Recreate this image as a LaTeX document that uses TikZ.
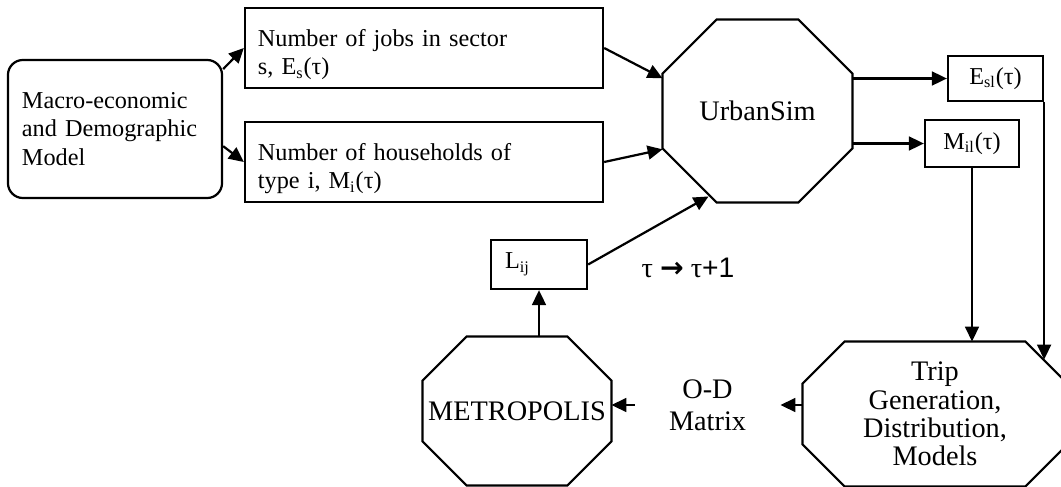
\documentclass[tikz,border=0pt]{standalone}
\usepackage{fontspec}
\setmainfont{Liberation Serif}
\newfontfamily\arrowfont{DejaVu Sans}
\newfontfamily\plainsans{Liberation Sans}
\usetikzlibrary{arrows.meta,calc}

\tikzset{
  box/.style={draw, line width=1.1pt, rectangle, inner sep=0pt, font=\fontsize{12}{14}\selectfont},
  octo/.style={rectangle, inner sep=0pt, align=center, font=\fontsize{14}{14}\selectfont},
  arr/.style={line width=1.1pt, -{Triangle[length=0.26cm,width=0.24cm]}},
}

\newcommand{\drawocto}[2]{%
  \draw[line width=1.1pt] ($(#1.north west)+(#2,0)$) -- ($(#1.north east)+(-#2,0)$)
    -- ($(#1.north east)+(0,#2)$) -- ($(#1.south east)+(0,-#2)$)
    -- ($(#1.south east)+(-#2,0)$) -- ($(#1.south west)+(#2,0)$)
    -- ($(#1.south west)+(0,-#2)$) -- ($(#1.north west)+(0,#2)$) -- cycle;}

\begin{document}
\begin{tikzpicture}[x=0.0174cm, y=-0.0174cm]
  \useasboundingbox (0,0) rectangle (1061,486);
  \clip (0,0) rectangle (1061,486);

  \node[box, rounded corners=0.26cm, minimum width=3.724cm, minimum height=2.401cm, text width=3.236cm, align=left] (MD) at (115,129) {Macro-economic\\and Demographic\\Model};
  \node[box, minimum width=6.229cm, minimum height=1.392cm, text width=5.777cm, align=left] (JB) at (424,48) {\rule{0pt}{15pt}Number of jobs in sector\\s, E\textsubscript{s}(τ)};
  \node[box, minimum width=6.229cm, minimum height=1.392cm, text width=5.777cm, align=left] (HH) at (424,162) {\rule{0pt}{15pt}Number of households of\\type i, M\textsubscript{i}(τ)};
  \node[octo, minimum width=3.289cm, minimum height=3.167cm] (US) at (757.5,111) {UrbanSim};
  \node[box, minimum width=1.653cm, minimum height=0.783cm] (ES) at (995.5,78.5) {E\textsubscript{sl}(τ)};
  \node[box, minimum width=1.636cm, minimum height=0.818cm] (MI) at (972,143.5) {M\textsubscript{il}(τ)};
  \node[box, minimum width=1.670cm, minimum height=0.853cm, text width=1.183cm, align=left] (LJ) at (539,264.5) {L\textsubscript{ij}};
  \node[font=\fontsize{14}{16}\selectfont, inner sep=0pt] (TAU) at (688,268) {τ {\arrowfont\bfseries →} τ{\plainsans +1}};
  \node[octo, minimum width=3.271cm, minimum height=2.575cm] (MET) at (517,411) {METROPOLIS};
  \node[octo, minimum width=4.594cm, minimum height=2.506cm] (TG) at (935,414) {Trip\\Generation,\\Distribution,\\Models};
  \node[font=\fontsize{14}{16}\selectfont, align=center, minimum width=2.523cm, inner sep=0pt] (OD) at (707.5,405) {O-D\\Matrix};

  \drawocto{US}{54}
  \drawocto{MET}{44}
  \drawocto{TG}{42}

  \coordinate (USin) at ($(US.south west)+(46,-6)$);
  \coordinate (TGin) at ($(TG.north east)+(-24,18)$);

  \draw[arr] (MD.29) -- (JB.west);
  \draw[arr] (MD.-9) -- (HH.west);
  \draw[arr] (JB.east) -- (US.161);
  \draw[arr] (HH.east) -- (US.202);
  \draw[arr] (LJ.east) -- (USin);
  \draw[arr] (US.east |- ES.west) -- (ES.west);
  \draw[arr] (US.east |- MI.west) -- (MI.west);
  \draw[arr] (MI.south) -- (MI.south |- TG.north);
  \draw[arr] (ES.south east) -- (ES.south east |- TGin);
  \draw[arr] (TG.west |- OD) -- (OD.east);
  \draw[arr] (OD.west) -- (MET.east |- OD);
  \draw[arr] (LJ.south |- MET.north) -- (LJ.south);
\end{tikzpicture}
\end{document}
